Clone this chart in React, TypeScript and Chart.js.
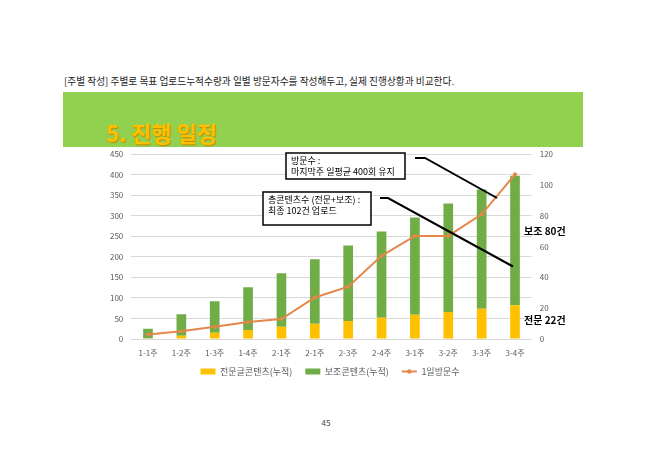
import React, { useEffect, useRef } from "react";
import { Chart, registerables } from "chart.js";

Chart.register(...registerables);

const weeks = ["1-1주", "1-2주", "1-3주", "1-4주", "2-1주", "2-1주", "2-3주", "2-4주", "3-1주", "3-2주", "3-3주", "3-4주"];
const expertCumulative = [2, 8, 15, 22, 30, 37, 44, 52, 59, 66, 74, 82];
const supportCumulative = [23, 52, 77, 104, 130, 157, 184, 210, 237, 264, 290, 316];
const dailyVisits = [3, 5, 8, 11, 13, 27, 34, 54, 67, 67, 81, 107];
const seriesNames = ["전문글콘텐츠(누적)", "보조콘텐츠(누적)", "1일방문수"];
const leftAxis = { min: 0, max: 450, step: 50 };
const rightAxis = { min: 0, max: 120, step: 20 };
const visitNote = ["방문수 :", "마지막주 일평균 400회 유지"];
const contentNote = ["총콘텐츠수 (전문+보조) :", "최종 102건 업로드"];
const sideNotes = ["보조 80건", "전문 22건"];

const FONT = "'Noto Sans CJK KR', 'Noto Sans', sans-serif";
const YELLOW = "#FFC000";
const GREEN = "#70AD47";
const ORANGE = "#E5864A";
const TICK = "#595959";

const CW = 480;
const CH = 245;

const legendShift = {
  id: "legendShift",
  afterLayout(chart: any) {
    const l = chart.legend;
    if (l) {
      l.top -= 7;
      l.bottom -= 7;
    }
  },
};

const annotations = {
  id: "annotations",
  afterDraw(chart: any) {
    const ctx = chart.ctx as CanvasRenderingContext2D;
    ctx.save();
    ctx.strokeStyle = "#000";
    ctx.lineWidth = 2;
    ctx.beginPath();
    ctx.moveTo(325, 10);
    ctx.lineTo(335, 10);
    ctx.lineTo(407, 50);
    ctx.stroke();
    ctx.beginPath();
    ctx.moveTo(290, 50);
    ctx.lineTo(298, 50);
    ctx.lineTo(423, 118.5);
    ctx.stroke();
    const box = (x: number, y: number, w: number, h: number, lines: string[]) => {
      ctx.fillStyle = "#fff";
      ctx.fillRect(x, y, w, h);
      ctx.strokeStyle = "#000";
      ctx.lineWidth = 1.5;
      ctx.strokeRect(x, y, w, h);
      ctx.fillStyle = "#000";
      ctx.font = `9px ${FONT}`;
      ctx.textBaseline = "middle";
      ctx.textAlign = "left";
      lines.forEach((t, i) => ctx.fillText(t, x + 5, y + 8 + i * 10.5));
    };
    box(196, 5, 119, 26, visitNote);
    box(173, 44, 108, 33, contentNote);
    ctx.fillStyle = "#000";
    ctx.font = `bold 10px ${FONT}`;
    ctx.textBaseline = "middle";
    ctx.fillText(sideNotes[0], 434, 83);
    ctx.fillText(sideNotes[1], 434, 172.5);
    const legend = chart.legend;
    if (legend && legend.legendHitBoxes && legend.legendItems) {
      legend.legendItems.forEach((it: any, i: number) => {
        if (it.datasetIndex === 2) {
          const hb = legend.legendHitBoxes[i];
          ctx.fillStyle = ORANGE;
          ctx.beginPath();
          ctx.arc(hb.left + 7.5, hb.top + hb.height / 2, 2.2, 0, Math.PI * 2);
          ctx.fill();
        }
      });
    }
    ctx.restore();
  },
};

export default function App() {
  const ref = useRef<HTMLCanvasElement | null>(null);
  useEffect(() => {
    if (!ref.current) return;
    Chart.defaults.font.family = FONT;
    const chart = new Chart(ref.current, {
      type: "bar",
      data: {
        labels: weeks,
        datasets: [
          {
            type: "bar",
            label: seriesNames[0],
            data: expertCumulative,
            backgroundColor: YELLOW,
            yAxisID: "y",
            stack: "c",
            order: 2,
            barPercentage: 0.29,
            categoryPercentage: 1,
          },
          {
            type: "bar",
            label: seriesNames[1],
            data: supportCumulative,
            backgroundColor: GREEN,
            yAxisID: "y",
            stack: "c",
            order: 2,
            barPercentage: 0.29,
            categoryPercentage: 1,
          },
          {
            type: "line",
            label: seriesNames[2],
            data: dailyVisits,
            borderColor: ORANGE,
            backgroundColor: ORANGE,
            borderWidth: 2,
            pointRadius: 2,
            pointBackgroundColor: ORANGE,
            pointBorderWidth: 0,
            tension: 0,
            yAxisID: "y1",
            order: 0,
          } as any,
        ],
      },
      options: {
        responsive: false,
        animation: false,
        events: [],
        layout: { padding: { top: 0, left: 0, right: 0, bottom: 0 } },
        plugins: {
          tooltip: { enabled: false },
          legend: {
            position: "bottom",
            labels: {
              usePointStyle: true,
              pointStyleWidth: 15,
              boxHeight: 6,
              padding: 13,
              color: TICK,
              font: { size: 9, family: FONT },
              generateLabels: (c: any) => {
                const items = Chart.defaults.plugins.legend.labels.generateLabels(c);
                return items
                  .slice()
                  .sort((a: any, b: any) => a.datasetIndex - b.datasetIndex)
                  .map((it: any) => {
                    if (it.datasetIndex < 2) {
                      return { ...it, pointStyle: "rect", lineWidth: 0, strokeStyle: it.fillStyle };
                    }
                    return { ...it, pointStyle: "line", lineWidth: 2, strokeStyle: ORANGE, fillStyle: ORANGE };
                  });
              },
            },
          },
        },
        scales: {
          x: {
            stacked: true,
            grid: { display: false },
            border: { display: false },
            ticks: { color: TICK, font: { size: 8 }, maxRotation: 0, autoSkip: false, padding: 1 },
            afterFit: (s: any) => {
              s.height = 22;
            },
          },
          y: {
            stacked: true,
            position: "left",
            min: leftAxis.min,
            max: leftAxis.max,
            ticks: { stepSize: leftAxis.step, color: TICK, font: { size: 8 }, padding: 8 },
            grid: { color: "#D9D9D9", drawTicks: false },
            border: { display: false },
            afterFit: (s: any) => {
              s.width = 41.3;
              s.paddingTop = 6.3;
              s.paddingBottom = 0;
            },
          },
          y1: {
            position: "right",
            min: rightAxis.min,
            max: rightAxis.max,
            ticks: { stepSize: rightAxis.step, color: TICK, font: { size: 8 }, padding: 8 },
            grid: { drawOnChartArea: false, drawTicks: false },
            border: { display: false },
            afterFit: (s: any) => {
              s.width = 38.3;
              s.paddingTop = 6.3;
              s.paddingBottom = 0;
            },
          },
        },
      },
      plugins: [legendShift, annotations],
    } as any);
    return () => chart.destroy();
  }, []);

  return (
    <div style={{ position: "relative", width: 652, height: 461, margin: -8, background: "#fff", fontFamily: FONT }}>
      <div style={{ position: "absolute", left: 64, top: 74, fontSize: 9.7, color: "#222", whiteSpace: "nowrap", lineHeight: "14px" }}>
        [주별 작성] 주별로 목표 업로드누적수량과 일별 방문자수를 작성해두고, 실제 진행상황과 비교한다.
      </div>
      <div style={{ position: "absolute", left: 63, top: 92, width: 520, height: 55, background: "#92D050" }} />
      <div
        style={{
          position: "absolute",
          left: 106,
          top: 117,
          fontSize: 22,
          fontWeight: 700,
          color: "#FFC000",
          lineHeight: "30px",
          whiteSpace: "nowrap",
          textShadow: "1px 1px 1px #C08A00",
        }}
      >
        5. 진행 일정
      </div>
      <canvas ref={ref} width={CW} height={CH} style={{ position: "absolute", left: 90, top: 148, width: CW, height: CH }} />
      <div style={{ position: "absolute", left: 0, width: 652, top: 417, textAlign: "center", fontSize: 8, color: "#444" }}>45</div>
    </div>
  );
}
